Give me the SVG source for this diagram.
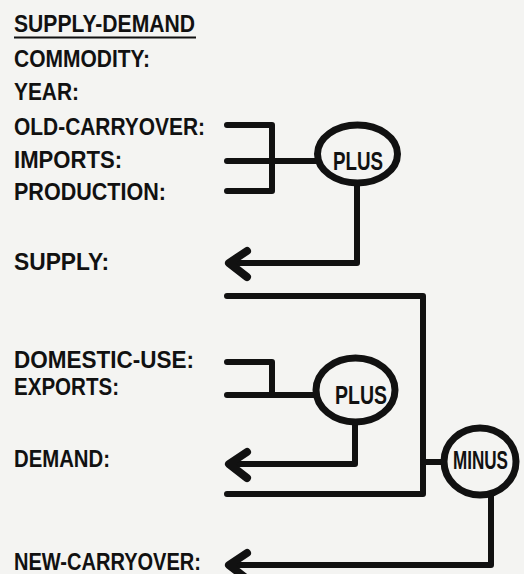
<svg xmlns="http://www.w3.org/2000/svg" width="524" height="574" viewBox="0 0 524 574">
<style>
.lbl{font-family:"Liberation Sans",Arial,sans-serif;font-size:23px;font-weight:bold;fill:#111}
.op{font-family:"Liberation Sans",Arial,sans-serif;font-size:25px;font-weight:bold;fill:#111}
.ell{fill:#f4f4f2;stroke:#111;stroke-width:7}
.con{fill:none;stroke:#111;stroke-width:6;stroke-linecap:round;stroke-linejoin:round}
</style>
<defs>
<marker id="ah" markerUnits="userSpaceOnUse" markerWidth="40" markerHeight="40" viewBox="-30 -20 40 40" refX="0" refY="0" orient="auto" overflow="visible">
<path d="M-18,-14 L0,0 L-18,12" fill="none" stroke="#111" stroke-width="8" stroke-linecap="round" stroke-linejoin="round"/>
</marker>
</defs>
<rect width="524" height="574" fill="#f4f4f2"/>
<g id="title">
<text class="lbl" x="14" y="32" textLength="181" lengthAdjust="spacingAndGlyphs">SUPPLY-DEMAND</text>
<line x1="14" y1="37.5" x2="196" y2="37.5" stroke="#111" stroke-width="2"/>
</g>
<g id="commodity"><text class="lbl" x="14" y="67" textLength="136" lengthAdjust="spacingAndGlyphs">COMMODITY:</text></g>
<g id="year"><text class="lbl" x="14" y="100" textLength="65" lengthAdjust="spacingAndGlyphs">YEAR:</text></g>
<g id="old-carryover"><text class="lbl" x="14" y="135" textLength="191" lengthAdjust="spacingAndGlyphs">OLD-CARRYOVER:</text></g>
<g id="imports"><text class="lbl" x="14" y="168" textLength="108" lengthAdjust="spacingAndGlyphs">IMPORTS:</text></g>
<g id="production"><text class="lbl" x="14" y="200" textLength="152" lengthAdjust="spacingAndGlyphs">PRODUCTION:</text></g>
<g id="supply"><text class="lbl" x="14" y="270" textLength="95" lengthAdjust="spacingAndGlyphs">SUPPLY:</text></g>
<g id="domestic-use"><text class="lbl" x="14" y="368" textLength="180" lengthAdjust="spacingAndGlyphs">DOMESTIC-USE:</text></g>
<g id="exports"><text class="lbl" x="14" y="395" textLength="105" lengthAdjust="spacingAndGlyphs">EXPORTS:</text></g>
<g id="demand"><text class="lbl" x="14" y="467" textLength="96" lengthAdjust="spacingAndGlyphs">DEMAND:</text></g>
<g id="new-carryover"><text class="lbl" x="14" y="570" textLength="187" lengthAdjust="spacingAndGlyphs">NEW-CARRYOVER:</text></g>

<g id="connectors">
<path class="con" d="M227,125 H272 V191 H227"/>
<path class="con" d="M227,161 H319"/>
<path class="con" d="M357,183 V263 H229" marker-end="url(#ah)"/>
<path class="con" d="M227,296 H423 V494 H227"/>
<path class="con" d="M423,462 H444"/>
<path class="con" d="M227,362 H272 V395"/>
<path class="con" d="M227,395 H317"/>
<path class="con" d="M355,422 V464 H229" marker-end="url(#ah)"/>
<path class="con" d="M491,495 V565 H229" marker-end="url(#ah)"/>
</g>

<g id="plus1">
<ellipse class="ell" cx="357.5" cy="154" rx="40" ry="29"/>
<text class="op" x="333" y="170" textLength="50" lengthAdjust="spacingAndGlyphs">PLUS</text>
</g>
<g id="plus2">
<ellipse class="ell" cx="355.5" cy="390" rx="39.5" ry="32"/>
<text class="op" x="335" y="404" textLength="52" lengthAdjust="spacingAndGlyphs">PLUS</text>
</g>
<g id="minus">
<ellipse class="ell" cx="480" cy="461.5" rx="36" ry="33.5"/>
<text class="op" x="453" y="469" font-size="20.5" textLength="55" lengthAdjust="spacingAndGlyphs">MINUS</text>
</g>
</svg>
